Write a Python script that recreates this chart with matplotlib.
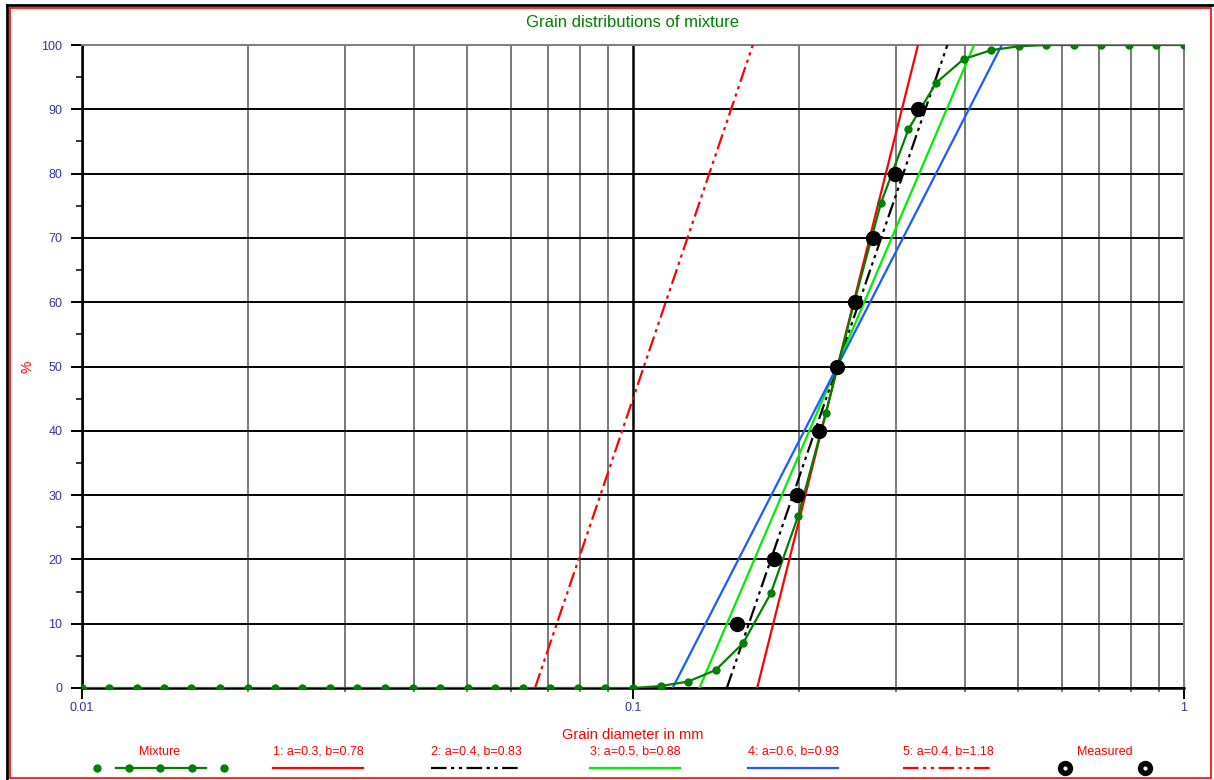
import matplotlib
matplotlib.use("Agg")
import matplotlib.pyplot as plt
from matplotlib.lines import Line2D
from matplotlib.patches import Rectangle
from matplotlib.ticker import LogLocator, NullFormatter, FixedLocator, MultipleLocator

plt.rcParams['font.family'] = ['Liberation Sans', 'DejaVu Sans']

## datos de la mezcla (tamices)
mix_d = [0.0100, 0.0112, 0.0126, 0.0141, 0.0158, 0.0178, 0.0200, 0.0224, 0.0251, 0.0282,
         0.0316, 0.0355, 0.0398, 0.0447, 0.0501, 0.0562, 0.0631, 0.0708, 0.0794, 0.0891,
         0.1000, 0.1122, 0.1259, 0.1413, 0.1585, 0.1778, 0.1995, 0.2239, 0.2512, 0.2818,
         0.3162, 0.3548, 0.3981, 0.4467, 0.5012, 0.5623, 0.6310, 0.7079, 0.7943, 0.8913, 1.0]
mix_pct = [0] * 21 + [0.3, 1.0, 2.8, 7.0, 14.7, 26.8, 42.8, 59.5, 75.4,
                      86.9, 94.1, 97.8, 99.2, 99.8, 100, 100, 100, 100, 100, 100]

## medidos
meas_d = [0.1546, 0.180, 0.1985, 0.2176, 0.2345, 0.2529, 0.2727, 0.2989, 0.3290]
meas_pct = [10, 20, 30, 40, 50, 60, 70, 80, 90]

## ajustes: diametro a 0% y a 100%
fit_labels = ["1: a=0.3, b=0.78", "2: a=0.4, b=0.83", "3: a=0.5, b=0.88",
              "4: a=0.6, b=0.93", "5: a=0.4, b=1.18"]
fit_d0 = [0.168, 0.148, 0.132, 0.118, 0.0664]
fit_d100 = [0.329, 0.372, 0.416, 0.467, 0.165]
fit_colors = ["#ff0000", "#000000", "#00ee00", "#1a5cff", "#ff0000"]
ddd = (0, (7, 2, 1.5, 2, 1.5, 2))
fit_styles = ["-", ddd, "-", "-", ddd]

W, H = 1214, 780
fig = plt.figure(figsize=(W / 100, H / 100), dpi=100)
ax = fig.add_axes([82 / W, 1 - 688 / H, (1184 - 82) / W, (688 - 45) / H])

ax.set_xscale("log")
ax.set_xlim(0.01, 1)
ax.set_ylim(0, 100)

## grid
ax.xaxis.set_major_locator(FixedLocator([0.01, 0.1, 1]))
ax.xaxis.set_minor_locator(LogLocator(base=10, subs=range(2, 10)))
ax.xaxis.set_minor_formatter(NullFormatter())
ax.set_xticklabels(["0.01", "0.1", "1"])
ax.yaxis.set_major_locator(MultipleLocator(10))
ax.yaxis.set_minor_locator(MultipleLocator(5))
ax.grid(True, which="major", axis="x", color="black", lw=1.8)
ax.grid(True, which="minor", axis="x", color="#555555", lw=1.1)
ax.grid(True, which="major", axis="y", color="black", lw=1.4)
ax.tick_params(axis="both", which="major", length=8, width=1.4, colors="black",
               labelcolor="#333399", labelsize=9)
ax.tick_params(axis="x", which="minor", length=3, width=1.1, color="#555555")
ax.tick_params(axis="y", which="minor", length=4, width=1.1, color="black")
ax.tick_params(axis="x", which="major", pad=2)
ax.tick_params(axis="y", which="major", pad=6)
for s in ["left", "bottom"]:
    ax.spines[s].set_color("black")
    ax.spines[s].set_linewidth(1.8)
for s in ["top", "right"]:
    ax.spines[s].set_color("#808080")
    ax.spines[s].set_linewidth(1.4)

## curvas
for d0, d1, c, ls in zip(fit_d0, fit_d100, fit_colors, fit_styles):
    ax.plot([d0, d1], [0, 100], color=c, ls=ls, lw=1.6, zorder=3)
ax.plot(mix_d, mix_pct, color="#008000", lw=1.6, marker="o", ms=5, zorder=4)
ax.plot(meas_d, meas_pct, ls="none", marker="o", ms=10, color="black", zorder=5)

ax.set_title("Grain distributions of mixture", color="#008000", fontsize=12, pad=13)
ax.set_xlabel("Grain diameter in mm", color="#ff0000", fontsize=10.5, labelpad=10)

## leyenda manual abajo
def fx(p):
    return p / W

def fy(p):
    return 1 - p / H

fig.text(fx(28), fy(367), "%", color="#ff0000", fontsize=10, rotation=90,
         ha="center", va="center")

ty, ly = 752, 768
leg_text = ["Mixture"] + fit_labels + ["Measured"]
leg_cx = [160, 318, 476, 635, 793, 948, 1105]
for t, cx in zip(leg_text, leg_cx):
    fig.text(fx(cx), fy(ty), t, color="#ff0000", fontsize=9, ha="center", va="center")

fig.add_artist(Line2D([fx(116), fx(206)], [fy(ly), fy(ly)], color="#008000", lw=1.6))
fig.add_artist(Line2D([fx(p) for p in [97, 129, 160, 192, 224]], [fy(ly)] * 5,
                      ls="none", marker="o", ms=5, color="#008000"))
for cx, c, ls in zip(leg_cx[1:6], fit_colors, fit_styles):
    fig.add_artist(Line2D([fx(cx - 45), fx(cx + 45)], [fy(ly), fy(ly)], color=c, ls=ls, lw=1.6))
fig.add_artist(Line2D([fx(1065), fx(1145)], [fy(ly), fy(ly)], ls="none", marker="o",
                      ms=10, color="black"))
fig.add_artist(Line2D([fx(1065), fx(1145)], [fy(ly), fy(ly)], ls="none", marker="o",
                      ms=2, color="white"))

## marcos
fig.add_artist(Rectangle((fx(10), fy(778)), fx(1201), 770 / H, fill=False,
                         edgecolor="#ff0000", lw=1.2, transform=fig.transFigure))
fig.add_artist(Line2D([fx(6.5), fx(6.5)], [fy(4.5), 0], color="black", lw=2))
fig.add_artist(Line2D([fx(6.5), 1], [fy(4.5), fy(4.5)], color="black", lw=2))

fig.savefig("out.png", dpi=100)
